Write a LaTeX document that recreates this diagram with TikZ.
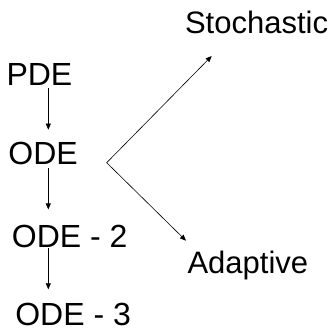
\documentclass[tikz,border=0pt]{standalone}
\usepackage{fontspec}
\setmainfont{Liberation Sans}
\usetikzlibrary{arrows.meta}

\begin{document}
\begin{tikzpicture}[x=1pt, y=1pt,
  lbl/.style={anchor=base west, inner sep=0pt, outer sep=0pt, font=\fontsize{31}{36}\selectfont},
  big/.style={lbl, font=\fontsize{32}{38}\selectfont},
  arr/.style={-{Triangle[length=6pt, width=5pt]}, line width=0.6pt}]
\useasboundingbox (0,0) rectangle (335,-327);
% left column
\node[big] (pde) at (6.5,-85) {PDE};
\node[big] (ode) at (8.5,-164.5) {ODE};
\node[big] (ode2) at (11.9,-247) {ODE - 2};
\node[big] (ode3) at (15.3,-325) {ODE - 3};
% right column
\node[lbl] (stoch) at (185,-33.5) {Stochastic};
\node[lbl] (adapt) at (187.5,-273) {Adaptive};
\coordinate (axis) at (48.3,0);
\coordinate (fork) at (106.7,-162.7);
\draw[arr, shorten <=3pt, shorten >=12.5pt] (pde.south -| axis) -- (ode.north -| axis);
\draw[arr, shorten <=3pt, shorten >=15.2pt] (ode.south -| axis) -- (ode2.north -| axis);
\draw[arr, shorten <=1pt, shorten >=13.3pt] (ode2.south -| axis) -- (ode3.north -| axis);
\draw[arr] (fork) -- ([shift={(26.7,-22.5)}]stoch.base west);
\draw[arr] (fork) -- ([shift={(-1.5,32.3)}]adapt.base west);
\end{tikzpicture}
\end{document}
